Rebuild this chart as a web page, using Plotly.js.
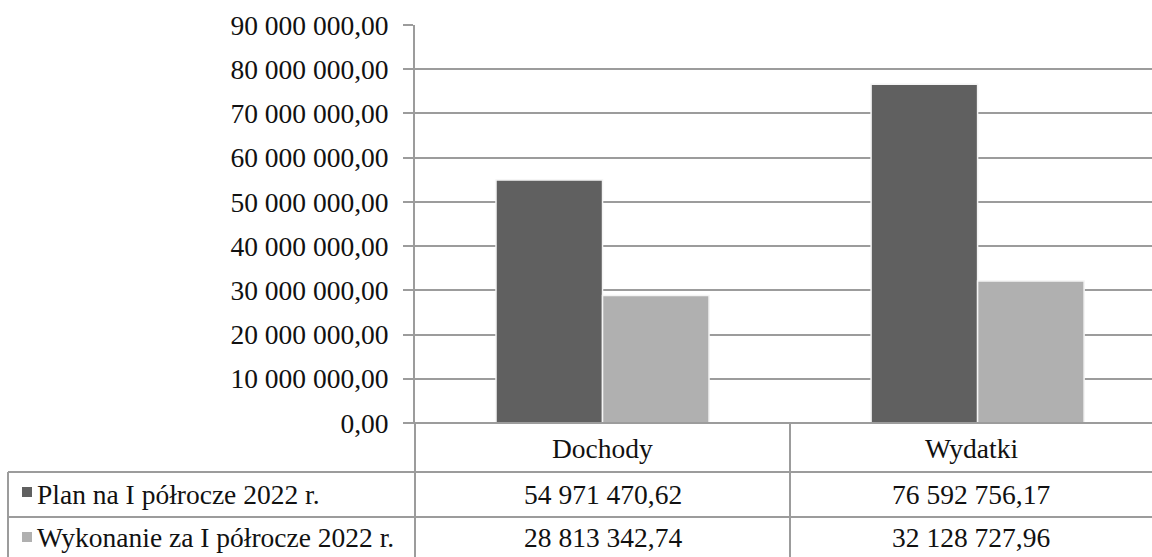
<!DOCTYPE html>
<html>
<head>
<meta charset="utf-8">
<script src="https://cdn.plot.ly/plotly-3.0.1.min.js"></script>
<style>html,body{margin:0;padding:0;background:#fff;}#chart{width:1152px;height:557px;}</style>
</head>
<body>
<div id="chart"></div>
<script>
const categories = ["Dochody", "Wydatki"];
const seriesNames = ["Plan na I półrocze 2022 r.", "Wykonanie za I półrocze 2022 r."];
const planValues = [54971470.62, 76592756.17];
const wykonanieValues = [28813342.74, 32128727.96];
const yTickValues = [0, 10000000, 20000000, 30000000, 40000000, 50000000, 60000000, 70000000, 80000000, 90000000];

const colors = ["#606060", "#b0b0b0"];
const W = 1152, H = 557, L = 415, T = 25, B = 134;
const PW = W - L, PH = H - T - B;
const px = x => (x - L) / PW;
const py = y => 1 - (y - T) / PH;

function fmt(v) {
  const s = v.toFixed(2).split(".");
  const intPart = s[0].replace(/\B(?=(\d{3})+(?!\d))/g, " ");
  return intPart + "," + s[1];
}

const mkFont = () => ({family: "Liberation Serif", size: 27.5, color: "#111"});
const lineCol = "#9c9c9c";

const traces = [
  {type: "bar", x: categories, y: planValues, name: seriesNames[0],
   marker: {color: colors[0], line: {color: "#f4f4f4", width: 1.5}}, hoverinfo: "skip"},
  {type: "bar", x: categories, y: wykonanieValues, name: seriesNames[1],
   marker: {color: colors[1], line: {color: "#f4f4f4", width: 1.5}}, hoverinfo: "skip"}
];

function hline(y, x0, x1) {
  return {type: "line", xref: "paper", yref: "paper", x0: px(x0), x1: px(x1), y0: py(y), y1: py(y),
          line: {color: lineCol, width: 2}, layer: "above"};
}
function vline(x, y0, y1) {
  return {type: "line", xref: "paper", yref: "paper", x0: px(x), x1: px(x), y0: py(y0), y1: py(y1),
          line: {color: lineCol, width: 2}, layer: "above"};
}

const rowHeader = 448, row1 = 494, row2 = 537;
const shapes = [
  hline(423, 405, W),
  hline(472, 8, W),
  hline(517, 8, W),
  vline(415, 423, H),
  vline(790, 423, H),
  vline(8, 472, H)
];
const keyTops = [487, 532];
keyTops.forEach((ky, i) => {
  shapes.push({type: "rect", xref: "paper", yref: "paper", x0: px(22), x1: px(32), y0: py(ky + 10), y1: py(ky),
               fillcolor: colors[i], line: {width: 0}});
});

const annotations = [];
const colCenters = [602.5, 971];
categories.forEach((c, i) => {
  annotations.push({xref: "paper", yref: "paper", x: px(colCenters[i]), y: py(rowHeader), text: c, showarrow: false,
                    xanchor: "center", yanchor: "middle", font: mkFont()});
  annotations.push({xref: "paper", yref: "paper", x: px(colCenters[i]), y: py(row1), text: fmt(planValues[i]), showarrow: false,
                    xanchor: "center", yanchor: "middle", font: mkFont()});
  annotations.push({xref: "paper", yref: "paper", x: px(colCenters[i]), y: py(row2), text: fmt(wykonanieValues[i]), showarrow: false,
                    xanchor: "center", yanchor: "middle", font: mkFont()});
});
seriesNames.forEach((n, i) => {
  annotations.push({xref: "paper", yref: "paper", x: px(35), y: py(i === 0 ? row1 : row2), text: n, showarrow: false,
                    xanchor: "left", yanchor: "middle", font: mkFont()});
});

const layout = {
  width: W, height: H,
  margin: {l: L, r: 0, t: T, b: B, pad: 0},
  paper_bgcolor: "#fff", plot_bgcolor: "#fff",
  showlegend: false,
  barmode: "group", bargap: 0.432, bargroupgap: 0,
  font: mkFont(),
  xaxis: {type: "category", range: [-0.5, 1.465], showticklabels: false, showgrid: false, zeroline: false,
          showline: false, ticks: "", fixedrange: true},
  yaxis: {range: [0, 90000000], tickvals: yTickValues, ticktext: yTickValues.map(fmt),
          showgrid: true, gridcolor: lineCol, gridwidth: 2, zeroline: false,
          showline: true, linecolor: lineCol, linewidth: 2,
          ticks: "outside", ticklen: 10, tickcolor: lineCol, tickwidth: 2,
          ticklabelstandoff: 9, tickfont: mkFont(), fixedrange: true},
  shapes: shapes,
  annotations: annotations
};

Plotly.newPlot("chart", traces, layout, {displayModeBar: false, staticPlot: true});
</script>
</body>
</html>
